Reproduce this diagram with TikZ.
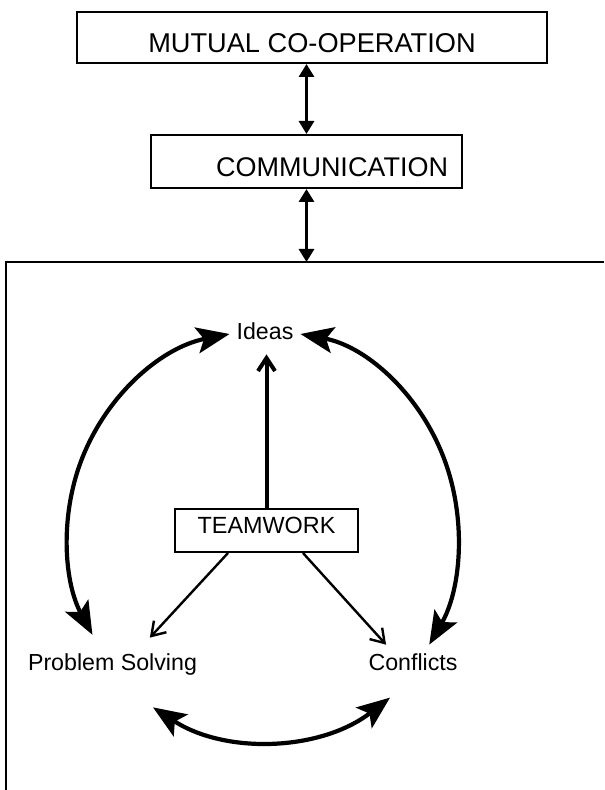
\documentclass[tikz,border=0pt]{standalone}
\usepackage{fontspec}
\setmainfont{Liberation Sans}
\usetikzlibrary{arrows.meta}
\tikzset{box/.style = {draw, line width = 1pt, inner sep = 0}}
\tikzset{lbl/.style = {anchor = base, text height = 8.4pt, text depth = 2.4pt,
                       font = \fontsize{11.6}{14}\selectfont}}
\tikzset{linkarrow/.style = {line width = 1.5pt,
                             {Triangle[width = 7.5pt, length = 6.5pt]}-{Triangle[width = 7.5pt, length = 6.5pt]}}}
\tikzset{cyclearrow/.style = {line width = 2.1pt,
                              {Stealth[width = 13pt, length = 16.5pt, inset = 3.5pt]}-{Stealth[width = 13pt, length = 16.5pt, inset = 3.5pt]}}}
\tikzset{leadarrow/.style = {line width = #1, -{Straight Barb[width = 8.5pt, length = 6.5pt]}}}
\tikzset{frame/.style = {line width = 1.2pt}}

\begin{document}
\begin{tikzpicture}[x = 0.5pt, y = 0.5pt]
    \useasboundingbox (0, 0) rectangle (604, -790);

    \node [box, minimum width = 235pt, minimum height = 25.5pt, text height = 15.1pt, text depth = 0pt,
           font = \fontsize{13.6}{16}\selectfont] (mutual) at (312, -37.5) {MUTUAL CO-OPERATION};
    \node [box, minimum height = 26.5pt, inner xsep = 7pt, text width = 141.5pt, align = right,
           text height = 15.3pt, text depth = 0pt, font = \fontsize{13.5}{16}\selectfont] (comm) at (306.5, -161.5) {COMMUNICATION};

    \draw [frame] (604, -262) -- (6, -262) -- (6, -790);
    \coordinate (ftop) at (306.5, -262);

    \draw [linkarrow] (mutual.south -| comm.north) -- (comm.north);
    \draw [linkarrow] (comm.south) -- (ftop);

    \node [box, minimum width = 91.5pt, minimum height = 21.5pt, text height = 8.2pt, text depth = 5.5pt,
           font = \fontsize{11.7}{14}\selectfont] (team) at (266.5, -530.5) {TEAMWORK};
    \node [lbl] (ideas) at (265, -340) {Ideas};
    \node [lbl] (solving) at (112.5, -670) {Problem Solving};
    \node [lbl] (conflicts) at (413, -670) {Conflicts};

    \draw [leadarrow = 2pt, shorten > = 1.25pt] (team.north) -- (team.north |- ideas.south);
    \draw [leadarrow = 1.2pt, shorten > = 5.8pt] ([xshift = -19.25pt]team.south) -- ([xshift = 14.75pt]solving.north);
    \draw [leadarrow = 1.2pt, shorten > = 1pt] ([xshift = 18.25pt]team.south) -- ([xshift = -12.8pt]conflicts.north);

    \draw [cyclearrow] (ideas.west) arc [start angle = 100.7, end angle = 209, x radius = 199, y radius = 205];
    \draw [cyclearrow] (ideas.east) arc [start angle = 80.2, end angle = -32, x radius = 190, y radius = 205];
    \draw [cyclearrow] ([shift = {(40.5, -25.5)}]solving.south) arc [start angle = 237, end angle = 307.7, radius = 205];
  \end{tikzpicture}
\end{document}
